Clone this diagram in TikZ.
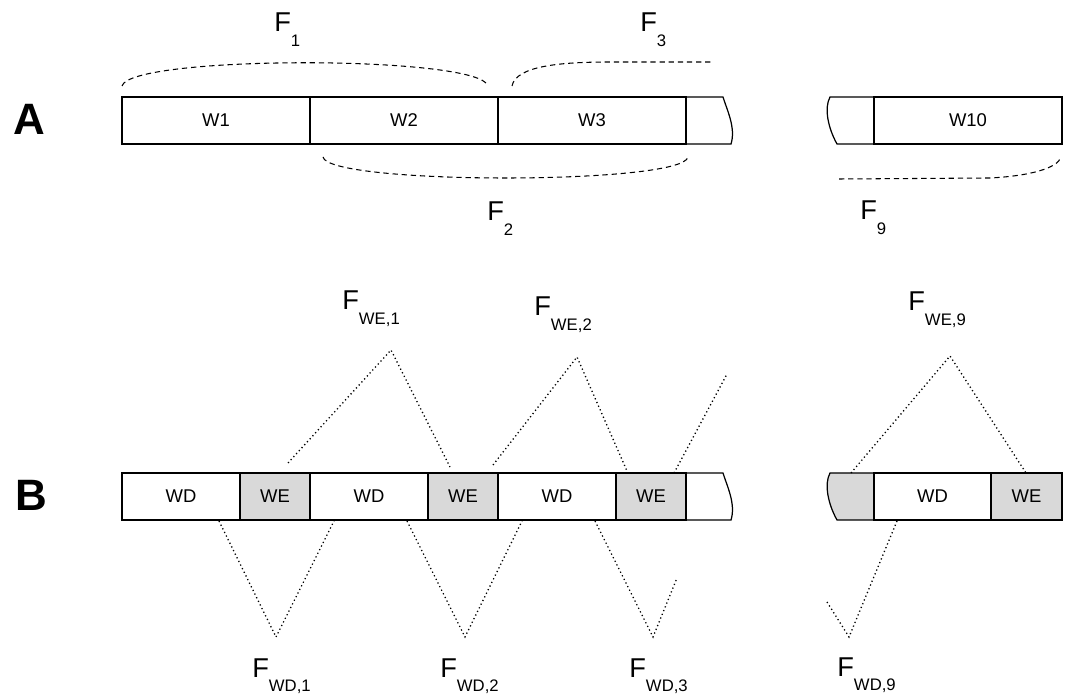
\documentclass[tikz,border=0pt]{standalone}
\usepackage{fontspec}
\setmainfont{Liberation Sans}
\definecolor{wegray}{RGB}{217,217,217}
\newcommand{\fname}[1]{F\raisebox{-8.3pt}{\fontsize{9.5}{10}\selectfont #1}}

\begin{document}
\begin{tikzpicture}[x=0.02cm, y=-0.02cm]
  \tikzset{
    cell/.style={draw, line width=0.7pt},
    wecell/.style={cell, fill=wegray},
    celltext/.style={font=\fontsize{10.5}{12}\selectfont},
    flabel/.style={anchor=base west, inner sep=0pt, font=\fontsize{15.5}{17}\selectfont},
    rowlabel/.style={anchor=base west, inner sep=0pt, font=\fontsize{25}{28}\selectfont\bfseries},
    brace/.style={line width=0.6pt, dash pattern=on 3pt off 2.2pt},
    zig/.style={line width=0.75pt, dash pattern=on 0.7pt off 1.6pt},
  }
  \useasboundingbox (0,0) rectangle (1065,695);

  % Row labels
  \node[rowlabel] (rowA) at (13,135) {A};
  \node[rowlabel] (rowB) at (15,511) {B};

  % Row A: windows
  \foreach \x/\t in {122/W1, 310/W2, 498/W3} {
    \draw[cell] (\x,97) rectangle ++(188,47);
    \node[celltext] (\t) at (\x+94,120.5) {\t};
  }
  \draw[cell] (686,97) -- (723,97) .. controls (727,110) and (736,128) .. (731,144) -- (686,144);
  \draw[cell] (874,97) -- (830,97) .. controls (824,108) and (828,128) .. (837,144) -- (874,144);
  \draw[cell] (874,97) rectangle (1062,144);
  \node[celltext] (W10) at (968,120.5) {W10};

  % Frames over the windows
  \draw[brace] (122,86) .. controls (130,55) and (480,55) .. (488,86);
  \draw[brace] (512,86) .. controls (516,66) and (560,62) .. (610,62) -- (711,62);
  \draw[brace] (323,157) .. controls (328,185) and (683,185) .. (688,157);
  \draw[brace] (839,179) -- (990,178) .. controls (1030,176) and (1058,168) .. (1061,157);
  \node[flabel] (F1) at (274,32) {\fname{1}};
  \node[flabel] (F3) at (640,32) {\fname{3}};
  \node[flabel] (F2) at (487,221) {\fname{2}};
  \node[flabel] (F9) at (860,220) {\fname{9}};

  % Row B: WD / WE parts
  \foreach \x in {122, 310, 498} {
    \draw[cell] (\x,473) rectangle ++(118,47);
    \draw[wecell] (\x+118,473) rectangle ++(70,47);
    \node[celltext] (wd-\x) at (\x+59,496.5) {WD};
    \node[celltext] (we-\x) at (\x+153,496.5) {WE};
  }
  \draw[cell] (686,473) -- (723,473) .. controls (727,486) and (736,504) .. (731,520) -- (686,520);
  \draw[wecell] (874,473) -- (830,473) .. controls (824,484) and (828,504) .. (837,520) -- (874,520) -- cycle;
  \draw[cell] (874,473) rectangle (991,520);
  \draw[wecell] (991,473) rectangle (1062,520);
  \node[celltext] (wd-9) at (932.5,496.5) {WD};
  \node[celltext] (we-9) at (1026.5,496.5) {WE};

  % Frames over the WE parts
  \coordinate (we1a) at (288,463);  \coordinate (we1) at (391,350);  \coordinate (we1b) at (450,467);
  \coordinate (we2a) at (493,465);  \coordinate (we2) at (577,357);  \coordinate (we2b) at (627,471);
  \coordinate (we3a) at (674,473);  \coordinate (we3) at (727,374);
  \coordinate (we9a) at (851,473);  \coordinate (we9) at (950,356);  \coordinate (we9b) at (1026,473);
  \draw[zig] (we1a) -- (we1) -- (we1b);
  \draw[zig] (we2a) -- (we2) -- (we2b);
  \draw[zig] (we3a) -- (we3);
  \draw[zig] (we9a) -- (we9) -- (we9b);

  % Frames under the WD parts
  \coordinate (wd1a) at (219,521);  \coordinate (wd1) at (276,637);  \coordinate (wd1b) at (334,521);
  \coordinate (wd2a) at (407,521);  \coordinate (wd2) at (465,637);  \coordinate (wd2b) at (522,521);
  \coordinate (wd3a) at (595,521);  \coordinate (wd3) at (653,637);  \coordinate (wd3b) at (677,578);
  \coordinate (wd9a) at (827,602);  \coordinate (wd9) at (849,637);  \coordinate (wd9b) at (897,521);
  \draw[zig] (wd1a) -- (wd1) -- (wd1b);
  \draw[zig] (wd2a) -- (wd2) -- (wd2b);
  \draw[zig] (wd3a) -- (wd3) -- (wd3b);
  \draw[zig] (wd9a) -- (wd9) -- (wd9b);

  \node[flabel] (Fwe1) at (342,310) {\fname{WE,1}};
  \node[flabel] (Fwe2) at (534,316) {\fname{WE,2}};
  \node[flabel] (Fwe9) at (908,311) {\fname{WE,9}};
  \node[flabel] (Fwd1) at (252,677) {\fname{WD,1}};
  \node[flabel] (Fwd2) at (440,677) {\fname{WD,2}};
  \node[flabel] (Fwd3) at (629,677) {\fname{WD,3}};
  \node[flabel] (Fwd9) at (837,676) {\fname{WD,9}};
\end{tikzpicture}
\end{document}
